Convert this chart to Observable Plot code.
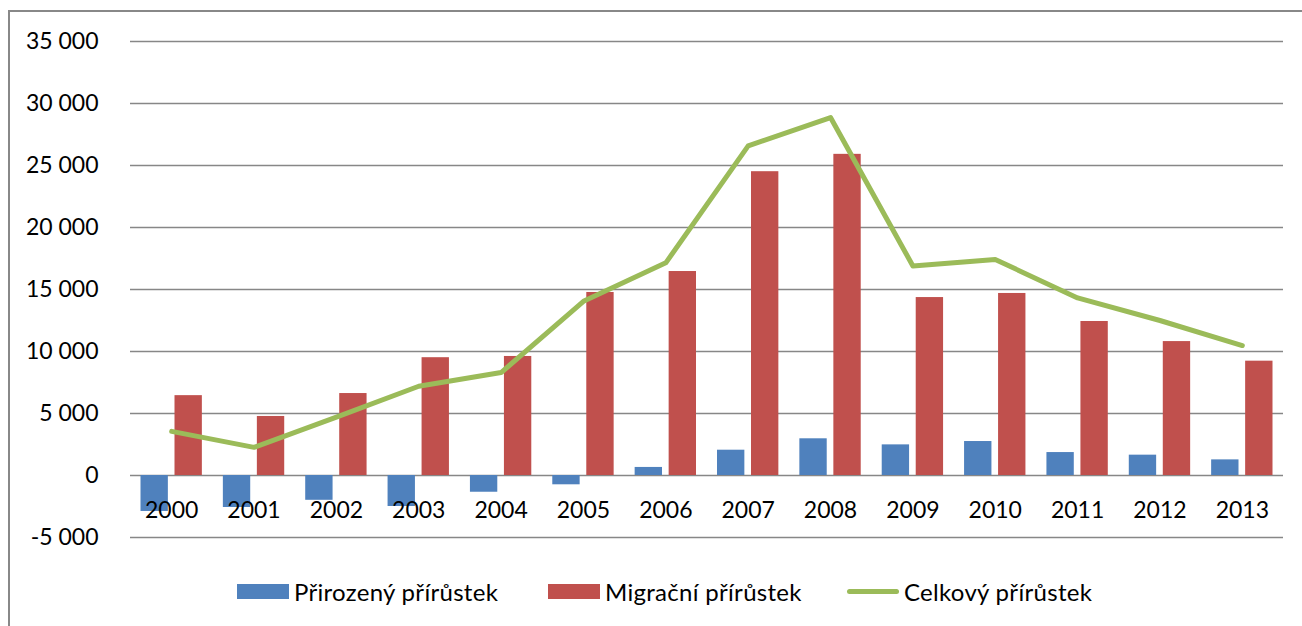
<!DOCTYPE html>
<html>
<head>
<meta charset="utf-8">
<script src="https://cdn.jsdelivr.net/npm/d3@7"></script>
<script src="https://cdn.jsdelivr.net/npm/@observablehq/plot@0.6"></script>
<style>
  html, body { margin: 0; padding: 0; background: #fff; overflow: hidden; width: 1302px; height: 626px; }
  #frame { position: absolute; left: 8px; top: 10px; width: 1310px; height: 640px; border: 2px solid #888; box-sizing: border-box; }
  #chart { position: absolute; left: 0; top: 0; }
  #legend { position: absolute; left: 0; top: 575px; width: 1302px; font-family: Lato, sans-serif; font-size: 24px; letter-spacing: 0.3px; color: #000; }
  .item { position: absolute; top: 0; display: flex; align-items: center; height: 32px; }
  .sw { display: inline-block; width: 52px; height: 15px; margin-right: 5px; }
  .ln { display: inline-block; width: 52px; height: 5px; border-radius: 3px; margin-right: 5px; }
</style>
</head>
<body>
<div id="frame"></div>
<div id="chart"></div>
<div id="legend"></div>
<script>
const years = ["2000","2001","2002","2003","2004","2005","2006","2007","2008","2009","2010","2011","2012","2013"];
const prirozeny = [-2900, -2580, -2000, -2500, -1350, -750, 650, 2040, 2960, 2470, 2740, 1850, 1640, 1260];
const migracni = [6440, 4760, 6610, 9500, 9600, 14760, 16450, 24500, 25900, 14350, 14680, 12420, 10800, 9220];
const celkovy = [3560, 2270, 4700, 7200, 8300, 14050, 17150, 26580, 28870, 16900, 17420, 14320, 12500, 10480];
const yTicks = [-5000, 0, 5000, 10000, 15000, 20000, 25000, 30000, 35000];
const seriesNames = ["Přirozený přírůstek", "Migrační přírůstek", "Celkový přírůstek"];
const colors = ["#4f81bd", "#c0504d", "#9bbb59"];

const fmt = d3.formatLocale({thousands: "\u00a0", grouping: [3], decimal: ",", minus: "-"}).format(",");

const rowsP = years.map((y, i) => ({year: y, value: prirozeny[i]}));
const rowsM = years.map((y, i) => ({year: y, value: migracni[i]}));
const rowsC = years.map((y, i) => ({year: y, value: celkovy[i]}));

const chart = Plot.plot({
  width: 1302,
  height: 560,
  marginLeft: 130,
  marginRight: 19,
  marginTop: 41,
  marginBottom: 23,
  style: {fontFamily: "Lato, sans-serif", fontSize: "23px", color: "#000", background: "transparent", overflow: "visible"},
  x: {type: "band", domain: years, padding: 0, round: false, axis: null},
  y: {domain: [-5000, 35000], ticks: yTicks, tickFormat: fmt, label: null},
  marks: [
    Plot.ruleY(yTicks, {stroke: "#878787", strokeWidth: 1.5}),
    Plot.axisY({ticks: yTicks, tickFormat: fmt, tickSize: 0, tickPadding: 32, label: null, fontSize: 23}),
    Plot.barY(rowsP, {x: "year", y: "value", fill: colors[0], insetLeft: 10.5, insetRight: 44.5}),
    Plot.barY(rowsM, {x: "year", y: "value", fill: colors[1], insetLeft: 44.5, insetRight: 10.5}),
    Plot.line(rowsC, {x: "year", y: "value", stroke: colors[2], strokeWidth: 5, strokeLinejoin: "round", strokeLinecap: "round"}),
    Plot.text(years, {x: d => d, y: () => 0, text: d => d, dy: 35, fontSize: 23, fill: "#000"})
  ]
});
document.getElementById("chart").appendChild(chart);

const legend = document.getElementById("legend");
const lefts = [237, 548, 847];
seriesNames.forEach((name, i) => {
  const item = document.createElement("div");
  item.className = "item";
  item.style.left = lefts[i] + "px";
  const sw = document.createElement("span");
  sw.className = i === 2 ? "ln" : "sw";
  sw.style.background = colors[i];
  const t = document.createElement("span");
  t.textContent = name;
  item.appendChild(sw);
  item.appendChild(t);
  legend.appendChild(item);
});
</script>
</body>
</html>
